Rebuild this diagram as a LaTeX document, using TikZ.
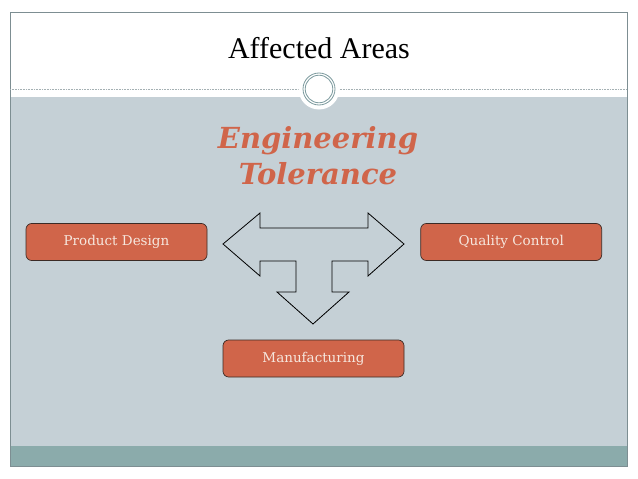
\documentclass[tikz,border=0pt]{standalone}
\usepackage{fontspec}
\setmainfont{DejaVu Serif}
\newfontfamily\titlefont{Liberation Serif}
\usetikzlibrary{positioning,calc}
\definecolor{coral}{HTML}{D0654A}
\definecolor{boxtext}{HTML}{F6E7DE}
\definecolor{boxedge}{HTML}{3B2A25}
\definecolor{slide}{HTML}{C5D0D6}
\definecolor{band}{HTML}{8BABAB}
\definecolor{frameline}{HTML}{7D8E92}
\definecolor{ring}{HTML}{7C9A9E}
\tikzset{
  areabox/.style={
  rounded corners=2mm,
  draw=boxedge,
  fill=coral,
  text=boxtext,
  line width=0.7pt,
  minimum width=181pt,
  minimum height=37pt,
  font=\fontsize{13.5}{16}\selectfont
  },
  bigarrow/.style={draw=black,line width=0.8pt,line join=miter},
  headline/.style={font=\titlefont\fontsize{30}{32}\selectfont,text=black},
  topic/.style={font=\bfseries\itshape\fontsize{29}{36}\selectfont,text=coral,align=center}
}
\begin{document}
\begin{tikzpicture}[x=1pt,y=-1pt]
  \useasboundingbox (0,0) rectangle (638,479);
  \fill[white] (0,0) rectangle (638,479);
  % slide background
  \fill[slide] (10,97) rectangle (627,446);
  \fill[band] (10,446) rectangle (627,466);
  \draw[frameline,line width=0.6pt] (10,12) rectangle (627,466);
  \draw[frameline!70,line width=0.4pt,dash pattern=on 0.8pt off 0.8pt] (10,89) -- (627,89);
  \fill[white] (319,89) circle (20.5);
  \draw[ring,line width=0.8pt] (319,89) circle (16);
  \draw[ring,line width=0.8pt] (319,89) circle (13.8);

  \node[headline] (title) at (319,48) {Affected Areas};
  \node[topic] (topic) at (318,156) {Engineering\\Tolerance};

  \draw[bigarrow] (223,244) -- (260,213) -- (260,228) -- (368,228) -- (368,213)
    -- (404,244) -- (368,276) -- (368,261) -- (332,261) -- (332,292) -- (349,292)
    -- (313,324) -- (277,292) -- (296,292) -- (296,261) -- (260,261) -- (260,276) -- cycle;

  \node[areabox] (design) at (116.5,242) {Product Design};
  \node[areabox,right=213pt of design] (quality) {Quality Control};
  \node[areabox] (manuf) at (313.5,358.5) {Manufacturing};
\end{tikzpicture}
\end{document}
